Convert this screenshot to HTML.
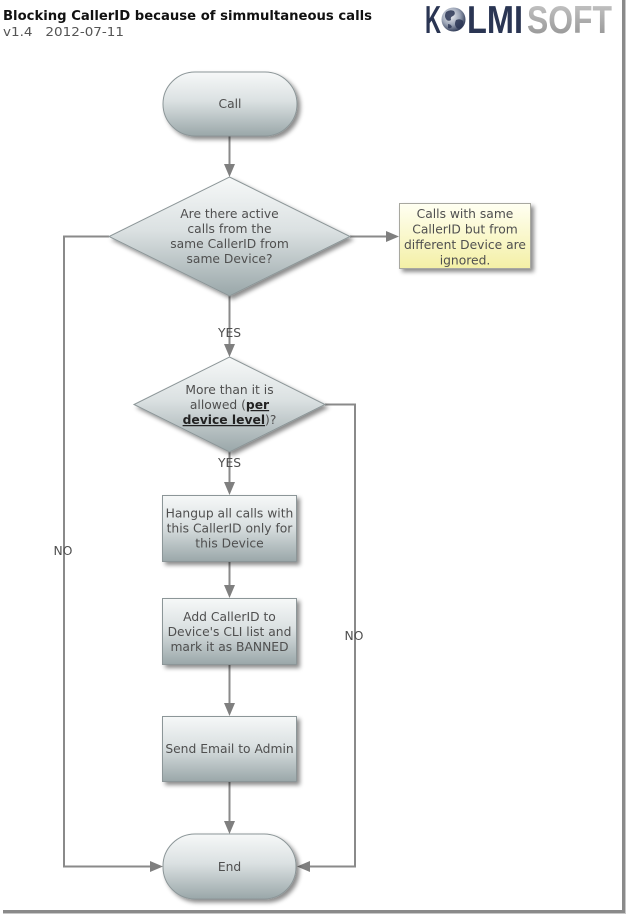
<!DOCTYPE html>
<html>
<head>
<meta charset="utf-8">
<style>
  html, body { margin: 0; padding: 0; background: #ffffff; }
  body { width: 628px; height: 916px; overflow: hidden; }
  svg { display: block; }
  .t { font-family: "DejaVu Sans", "Liberation Sans", sans-serif; font-size: 12.3px; fill: #4f4f4f; }
</style>
</head>
<body>
<svg width="628" height="916" viewBox="0 0 628 916" xmlns="http://www.w3.org/2000/svg">
  <defs>
    <linearGradient id="gshape" x1="0" y1="0" x2="0" y2="1">
      <stop offset="0" stop-color="#f6f8f8"/>
      <stop offset="0.45" stop-color="#dbe1e2"/>
      <stop offset="1" stop-color="#9aa7a9"/>
    </linearGradient>
    <linearGradient id="gnote" x1="0" y1="0" x2="0" y2="1">
      <stop offset="0" stop-color="#fffff2"/>
      <stop offset="1" stop-color="#f4f0a6"/>
    </linearGradient>
    <linearGradient id="gsoft" x1="0" y1="0" x2="0" y2="1">
      <stop offset="0" stop-color="#c8c8c8"/>
      <stop offset="1" stop-color="#909090"/>
    </linearGradient>
    <radialGradient id="gglobe" cx="0.38" cy="0.35" r="0.7">
      <stop offset="0" stop-color="#f2f4f7"/>
      <stop offset="0.55" stop-color="#9aa3b5"/>
      <stop offset="1" stop-color="#27324f"/>
    </radialGradient>
    <filter id="sh" x="-20%" y="-20%" width="150%" height="150%">
      <feDropShadow dx="3" dy="3" stdDeviation="2" flood-color="#000" flood-opacity="0.45"/>
    </filter>
  </defs>

  <!-- Title -->
  <text x="3" y="20" font-family="DejaVu Sans, Liberation Sans, sans-serif" font-size="13" font-weight="bold" fill="#111" textLength="369" lengthAdjust="spacingAndGlyphs">Blocking CallerID because of simmultaneous calls</text>
  <text x="3" y="36" font-family="DejaVu Sans, Liberation Sans, sans-serif" font-size="12.5" fill="#555" xml:space="preserve" textLength="121" lengthAdjust="spacingAndGlyphs">v1.4   2012-07-11</text>

  <!-- Logo -->
  <text x="425" y="33" font-family="Liberation Sans, sans-serif" font-size="39" font-weight="bold" fill="#2a3553" textLength="16" lengthAdjust="spacingAndGlyphs">K</text>
  <circle cx="453.5" cy="19.5" r="12" fill="url(#gglobe)"/>
  <path d="M446 12 q4 -3 8 -1 q2 3 -1 5 q-3 1 -2 4 q-3 2 -5 -1 q-2 -3 0 -7z" fill="#2a3553" opacity="0.85"/>
  <path d="M456 20 q4 -2 7 1 q1 4 -2 7 q-3 2 -5 -1 q-2 -3 0 -7z" fill="#2a3553" opacity="0.85"/>
  <path d="M448 24 q3 0 4 3 q-2 2 -4 1z" fill="#2a3553" opacity="0.8"/>
  <text x="467" y="33" font-family="Liberation Sans, sans-serif" font-size="39" font-weight="bold" fill="#2a3553" textLength="56" lengthAdjust="spacingAndGlyphs">LMI</text>
  <text x="527" y="33" font-family="Liberation Sans, sans-serif" font-size="39" font-weight="bold" fill="url(#gsoft)" textLength="85" lengthAdjust="spacingAndGlyphs">SOFT</text>

  <!-- Page frame shadow -->
  <rect x="622" y="0" width="3" height="913" fill="#8a8a8a"/>
  <rect x="625" y="0" width="1" height="914" fill="#c8c8c8"/>
  <rect x="3" y="910" width="622" height="3" fill="#8a8a8a"/>
  <rect x="3" y="913" width="623" height="1" fill="#c8c8c8"/>

  <!-- Connectors -->
  <g stroke="#8a8a8a" stroke-width="2" fill="none">
    <line x1="229.5" y1="136" x2="229.5" y2="165"/>
    <line x1="229.5" y1="296" x2="229.5" y2="345"/>
    <line x1="229.5" y1="452" x2="229.5" y2="483"/>
    <line x1="229.5" y1="562" x2="229.5" y2="586"/>
    <line x1="229.5" y1="665" x2="229.5" y2="704"/>
    <line x1="229.5" y1="782" x2="229.5" y2="822"/>
    <line x1="350" y1="236.5" x2="387" y2="236.5"/>
    <polyline points="109,236.5 64,236.5 64,866.5 151,866.5"/>
    <polyline points="325,404.5 355,404.5 355,866.5 309,866.5"/>
  </g>
  <g fill="#7f7f7f">
    <polygon points="224,164 235,164 229.5,177"/>
    <polygon points="224,344 235,344 229.5,357"/>
    <polygon points="224,482 235,482 229.5,495"/>
    <polygon points="224,585 235,585 229.5,598"/>
    <polygon points="224,703 235,703 229.5,716"/>
    <polygon points="224,821 235,821 229.5,834"/>
    <polygon points="386,231 386,242 399,236.5"/>
    <polygon points="150,861 150,872 163,866.5"/>
    <polygon points="310,861 310,872 297,866.5"/>
  </g>

  <!-- Shapes -->
  <g filter="url(#sh)" stroke="#8c9698" stroke-width="1">
    <rect x="163" y="72" width="134" height="64" rx="32" ry="32" fill="url(#gshape)"/>
    <polygon points="229.5,177 350,236.5 229.5,296 109,236.5" fill="url(#gshape)"/>
    <polygon points="229.5,357 325,404.5 229.5,452 134,404.5" fill="url(#gshape)"/>
    <rect x="162.5" y="495.5" width="134" height="66" fill="url(#gshape)"/>
    <rect x="162.5" y="598.5" width="134" height="66" fill="url(#gshape)"/>
    <rect x="162.5" y="716.5" width="134" height="65" fill="url(#gshape)"/>
    <rect x="163" y="834" width="133" height="65" rx="32" ry="32" fill="url(#gshape)"/>
    <rect x="399.5" y="203.5" width="131" height="65" fill="url(#gnote)" stroke="#a8a8a0"/>
  </g>

  <!-- Labels -->
  <g class="t" text-anchor="middle">
    <text x="230" y="108">Call</text>

    <text x="229.5" y="218">Are there active</text>
    <text x="229.5" y="233">calls from the</text>
    <text x="229.5" y="248">same CallerID from</text>
    <text x="229.5" y="263">same Device?</text>

    <text x="465" y="218">Calls with same</text>
    <text x="465" y="233.5">CallerID but from</text>
    <text x="465" y="249">different Device are</text>
    <text x="465" y="264.5">ignored.</text>

    <text x="229.5" y="337">YES</text>

    <text x="229.5" y="394">More than it is</text>
    <text x="229.5" y="409">allowed (<tspan font-weight="bold" fill="#222" style="text-decoration:underline">per</tspan></text>
    <text x="229.5" y="424"><tspan font-weight="bold" fill="#222" style="text-decoration:underline">device level</tspan>)?</text>

    <text x="229.5" y="467">YES</text>

    <text x="229.5" y="517.5">Hangup all calls with</text>
    <text x="229.5" y="532.5">this CallerID only for</text>
    <text x="229.5" y="547.5">this Device</text>

    <text x="229.5" y="621">Add CallerID to</text>
    <text x="229.5" y="636">Device's CLI list and</text>
    <text x="229.5" y="651">mark it as BANNED</text>

    <text x="229.5" y="753">Send Email to Admin</text>

    <text x="229.5" y="871">End</text>

    <text x="63" y="555">NO</text>
    <text x="354" y="640">NO</text>
  </g>
</svg>
</body>
</html>
